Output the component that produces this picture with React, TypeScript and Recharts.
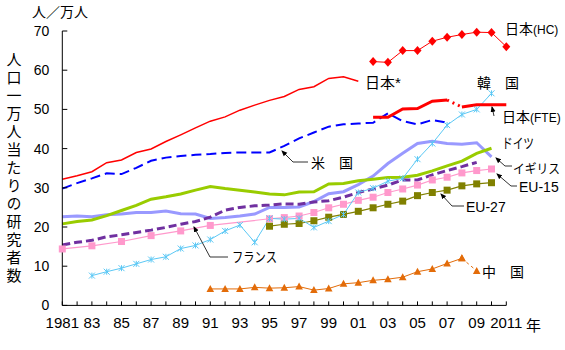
import { LineChart, Line, XAxis, YAxis } from "recharts";

// 人口一万人当たりの研究者数
const japanStar = [32.2, 33.1, 34.1, 36.4, 37.1, 39.0, 39.9, 41.8, 43.5, 45.3, 47.0, 48.1, 49.8, 51.1, 52.3, 53.3, 55.1, 55.8, 57.9, 58.3, 57.2]; // 1981-
const us = [29.8, 31.2, 32.4, 33.7, 33.5, 35.1, 36.9, 37.7, 38.1, 38.4, 38.6, 38.9, 39.0, 39.0, 39.0, 40.7, 42.6, 44.1, 45.6, 46.2, 46.4, 46.6, 49.0, 47.0, 46.2, 47.3, 46.6]; // 1981-
const japanFte = [48.0, 48.0, 50.1, 50.2, 52.1, 52.4, 50.6, 51.2, 51.2, 51.2]; // 2002-
const japanHc = [62.2, 62.0, 65.0, 65.0, 67.4, 68.4, 69.1, 69.7, 69.6, 66.0]; // 2002-
const korea = [7.6, 8.6, 9.5, 10.6, 11.7, 12.4, 14.5, 15.3, 16.8, 19.0, 20.5, 16.1, 22.2, 22.0, 22.2, 19.9, 21.5, 23.2, 28.8, 29.9, 31.7, 32.4, 37.3, 41.3, 46.0, 48.7, 50.0, 54.1]; // 1983-
const germany = [20.8, 21.4, 21.8, 22.9, 24.2, 25.5, 27.1, 27.7, 28.4, 29.4, 30.3, 29.8, 29.4, 28.9, 28.4, 28.2, 28.9, 29.0, 31.0, 31.1, 31.8, 32.2, 32.6, 32.7, 33.2, 34.3, 35.6, 36.8, 38.8, 40.1]; // 1981-
const uk = [22.6, 22.8, 22.6, 23.1, 23.3, 23.7, 23.7, 24.1, 23.4, 23.3, 22.2, 22.4, 22.8, 23.3, 25.0, 25.0, 25.1, 26.5, 28.5, 29.0, 30.8, 33.0, 36.2, 38.8, 41.3, 41.9, 41.3, 41.1, 41.5, 37.9]; // 1981-
const france = [15.4, 16.1, 16.6, 17.5, 18.0, 18.6, 19.2, 19.9, 20.7, 21.4, 22.5, 24.3, 25.0, 25.4, 25.6, 25.9, 25.8, 26.4, 26.7, 27.6, 28.8, 29.7, 30.7, 32.0, 32.0, 33.3, 34.4, 35.4, 36.5]; // 1981-
const eu15 = [14.4, null, 15.2, null, 16.3, null, 17.8, null, 19.0, null, 20.4, null, null, null, 22.1, 22.4, 22.8, 23.7, 24.9, 25.8, 26.8, 27.6, 28.8, 29.7, 30.7, 32.0, 32.7, 33.8, 34.4, 34.8]; // 1981-
const eu27 = [20.2, 20.7, 20.9, 21.6, 22.5, 23.2, 24.0, 24.9, 25.8, 26.6, 28.0, 28.8, 29.4, 30.5, 31.0, 31.3]; // 1995-
const china = [4.2, 4.2, 4.2, 4.6, 4.4, 4.5, 4.8, 3.9, 4.3, 5.5, 5.8, 6.4, 6.7, 7.2, 8.6, 9.3, 10.7, 12.0, 8.8]; // 1991-

const xTicks = [1981, 1982, 1983, 1984, 1985, 1986, 1987, 1988, 1989, 1990, 1991, 1992, 1993, 1994, 1995, 1996, 1997, 1998, 1999, 2000, 2001, 2002, 2003, 2004, 2005, 2006, 2007, 2008, 2009, 2010, 2011];
const xLabelYears = [1981, 1983, 1985, 1987, 1989, 1991, 1993, 1995, 1997, 1999, 2001, 2003, 2005, 2007, 2009, 2011];
const xLabels = ["1981", "83", "85", "87", "89", "91", "93", "95", "97", "99", "01", "03", "05", "07", "09", "2011"];
const yTicks = [0, 10, 20, 30, 40, 50, 60, 70];
const yTitle = "人口一万人当たりの研究者数";

const NUM = "'Liberation Sans', Arial, sans-serif";
const JP = "'Noto Sans CJK JP', sans-serif";

const pts = (start: number, vals: (number | null)[]) =>
  vals.map((v, i) => ({ year: start + i, v })).filter((p) => p.v !== null);

const fteAll = pts(2002, japanFte);
const fteA = fteAll.filter((p) => p.year <= 2007);
const fteGap = fteAll.filter((p) => p.year === 2007 || p.year === 2008);
const fteB = fteAll.filter((p) => p.year >= 2008);
const chinaAll = pts(1991, china);
const chinaA = chinaAll.filter((p) => p.year <= 2008);
const chinaB = chinaAll.filter((p) => p.year >= 2008);

function XTick({ x, y, payload }: any) {
  const i = xLabelYears.indexOf(payload.value);
  return (
    <g>
      <line x1={x} x2={x} y1={y} y2={y - 4} stroke="#000" />
      {i >= 0 && (
        <text x={x} y={y + 23} textAnchor="middle" fontSize={15} fontFamily={NUM} fill="#000">
          {xLabels[i]}
        </text>
      )}
    </g>
  );
}

function YTick({ x, y, payload }: any) {
  return (
    <g>
      <line x1={x} x2={x + 5} y1={y} y2={y} stroke="#000" />
      <text x={x - 13} y={y + 5} textAnchor="end" fontSize={14} fontFamily={NUM} fill="#000">
        {payload.value}
      </text>
    </g>
  );
}

const diamond = (p: any) =>
  p.cy == null ? <g key={p.index} /> : (
    <path key={p.index} d={`M${p.cx},${p.cy - 4.5}L${p.cx + 4},${p.cy}L${p.cx},${p.cy + 4.5}L${p.cx - 4},${p.cy}Z`} fill="#FF0000" />
  );
const square = (color: string) => (p: any) =>
  p.cy == null ? <g key={p.index} /> : (
    <rect key={p.index} x={p.cx - 3.5} y={p.cy - 3.5} width={7} height={7} fill={color} />
  );
const triangle = (p: any) =>
  p.cy == null ? <g key={p.index} /> : (
    <path key={p.index} d={`M${p.cx},${p.cy - 4}L${p.cx + 3.8},${p.cy + 3}L${p.cx - 3.8},${p.cy + 3}Z`} fill="#E36C09" />
  );
const cross = (p: any) =>
  p.cy == null ? <g key={p.index} /> : (
    <path key={p.index} d={`M${p.cx - 3},${p.cy - 3}L${p.cx + 3},${p.cy + 3}M${p.cx + 3},${p.cy - 3}L${p.cx - 3},${p.cy + 3}M${p.cx},${p.cy - 3}L${p.cx},${p.cy + 3}`} stroke="#5BC8F5" strokeWidth={1} />
  );

function Notes() {
  const lbl = { fontFamily: JP, fontSize: 14, fill: "#000" } as const;
  const num = { fontFamily: NUM, fontSize: 14, fill: "#000" } as const;
  const conn = { fill: "none", stroke: "#333", strokeWidth: 1, markerEnd: "url(#arr)" } as const;
  return (
    <svg width={565} height={350} style={{ position: "absolute", left: 0, top: 0, pointerEvents: "none" }}>
      <defs>
        <marker id="arr" markerWidth={6} markerHeight={6} refX={5} refY={3} orient="auto" markerUnits="userSpaceOnUse">
          <path d="M0,0.5 L6,3 L0,5.5 z" fill="#000" />
        </marker>
      </defs>
      <text x={32} y={17} fontFamily={JP} fontSize={14} fill="#000">人／万人</text>
      <text x={14} y={52} fontFamily={JP} fontSize={15} fill="#000" letterSpacing={3} style={{ writingMode: "vertical-rl" }}>
        {yTitle}
      </text>
      <text x={526} y={331} fontFamily={JP} fontSize={15} fill="#000">年</text>

      <text x={505} y={34} {...lbl}>日本<tspan fontFamily={NUM} fontSize={12}>(HC)</tspan></text>
      <text x={365} y={88} {...lbl} fontSize={15}>日本<tspan fontFamily={NUM}>*</tspan></text>
      <text x={477} y={88} {...lbl}>韓　国</text>
      <text x={502} y={122} {...lbl}>日本<tspan fontFamily={NUM} fontSize={12}>(FTE)</tspan></text>
      <text x={502} y={148} {...lbl} textLength={32} lengthAdjust="spacingAndGlyphs">ドイツ</text>
      <text x={513} y={173} {...lbl} fontSize={13} textLength={47} lengthAdjust="spacingAndGlyphs">イギリス</text>
      <text x={519} y={192} {...num}>EU-15</text>
      <text x={466} y={212} {...num}>EU-27</text>
      <text x={311} y={168} {...lbl}>米　国</text>
      <text x={232} y={262} {...lbl} textLength={45} lengthAdjust="spacingAndGlyphs">フランス</text>
      <text x={482} y={277} {...lbl}>中　国</text>

      <polyline points="494,116 492,107" {...conn} />
      <polyline points="512,166 505,166 496,158" {...conn} />
      <polyline points="517,186 511,186 497,174" {...conn} />
      <polyline points="464,206 452,206 441,194" {...conn} />
      <polyline points="308,162 293,162 282,151" {...conn} />
      <polyline points="228,257 210,257 194,227" {...conn} />
    </svg>
  );
}

export default function App() {
  return (
    <div style={{ position: "absolute", left: 0, top: 0, width: 565, height: 350, background: "#fff" }}>
      <LineChart width={565} height={350} margin={{ top: 31, right: 58.7, bottom: 0.6, left: 0.3 }}>
        <XAxis
          dataKey="year"
          type="number"
          domain={[1981, 2011]}
          ticks={xTicks}
          interval={0}
          height={44}
          tickSize={0}
          tickMargin={0}
          axisLine={{ stroke: "#000" }}
          tickLine={false}
          tick={XTick}
          allowDuplicatedCategory={false}
        />
        <YAxis
          type="number"
          domain={[0, 70]}
          ticks={yTicks}
          interval={0}
          width={62}
          tickSize={0}
          tickMargin={0}
          axisLine={{ stroke: "#000" }}
          tickLine={false}
          tick={YTick}
        />
        <Line data={pts(1981, uk)} dataKey="v" stroke="#9999FF" strokeWidth={3} dot={false} isAnimationActive={false} />
        <Line data={pts(1981, germany)} dataKey="v" stroke="#99CC00" strokeWidth={3} dot={false} isAnimationActive={false} />
        <Line data={pts(1981, france)} dataKey="v" stroke="#7030A0" strokeWidth={3} strokeDasharray="8 4" dot={false} isAnimationActive={false} />
        <Line data={pts(1981, eu15)} dataKey="v" stroke="#FF99CC" strokeWidth={1.2} dot={square("#FF99CC")} isAnimationActive={false} />
        <Line data={pts(1995, eu27)} dataKey="v" stroke="#808000" strokeWidth={1.2} dot={square("#808000")} isAnimationActive={false} />
        <Line data={pts(1983, korea)} dataKey="v" stroke="#5BC8F5" strokeWidth={1} dot={cross} isAnimationActive={false} />
        <Line data={chinaA} dataKey="v" stroke="#E36C09" strokeWidth={1} dot={triangle} isAnimationActive={false} />
        <Line data={chinaB} dataKey="v" stroke="#E36C09" strokeWidth={1} strokeDasharray="3 3" dot={triangle} isAnimationActive={false} />
        <Line data={pts(1981, us)} dataKey="v" stroke="#0000FF" strokeWidth={2} strokeDasharray="10 5" dot={false} isAnimationActive={false} />
        <Line data={pts(1981, japanStar)} dataKey="v" stroke="#FF0000" strokeWidth={1.5} dot={false} isAnimationActive={false} />
        <Line data={fteA} dataKey="v" stroke="#FF0000" strokeWidth={3} dot={false} isAnimationActive={false} />
        <Line data={fteGap} dataKey="v" stroke="#FF0000" strokeWidth={3} strokeDasharray="2 4" dot={false} isAnimationActive={false} />
        <Line data={fteB} dataKey="v" stroke="#FF0000" strokeWidth={3} dot={false} isAnimationActive={false} />
        <Line data={pts(2002, japanHc)} dataKey="v" stroke="#FF0000" strokeWidth={1} dot={diamond} isAnimationActive={false} />
      </LineChart>
      <Notes />
    </div>
  );
}
